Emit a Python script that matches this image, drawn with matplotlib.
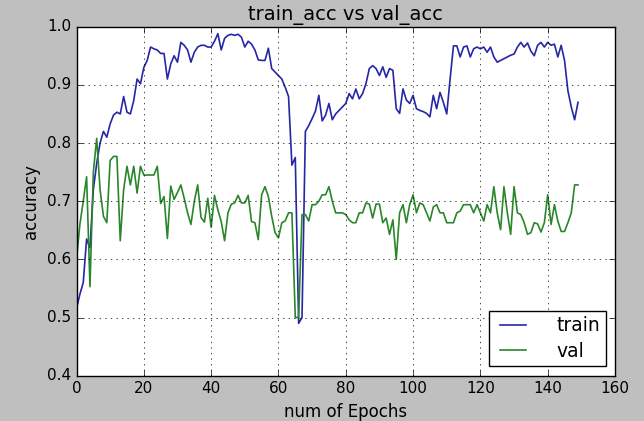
import numpy as np
import matplotlib
matplotlib.use('Agg')
import matplotlib.pyplot as plt
plt.style.use('classic')

train_acc = [0.515, 0.54, 0.56, 0.635, 0.62, 0.72, 0.765, 0.80, 0.82, 0.81,
             0.833, 0.848, 0.853, 0.85, 0.88, 0.853, 0.85, 0.873, 0.91, 0.902,
             0.93, 0.942, 0.965, 0.962, 0.96, 0.954, 0.954, 0.91, 0.936, 0.95,
             0.939, 0.973, 0.968, 0.96, 0.939, 0.956, 0.965, 0.968, 0.968, 0.965,
             0.965, 0.975, 0.988, 0.96, 0.98, 0.985, 0.987, 0.985, 0.987, 0.982,
             0.965, 0.975, 0.97, 0.96, 0.943, 0.942, 0.942, 0.963, 0.928, 0.922,
             0.916, 0.91, 0.896, 0.88, 0.762, 0.775, 0.49, 0.50, 0.82, 0.83,
             0.842, 0.855, 0.882, 0.838, 0.848, 0.868, 0.84, 0.85, 0.856, 0.862,
             0.868, 0.885, 0.876, 0.893, 0.876, 0.885, 0.902, 0.928, 0.933, 0.928,
             0.916, 0.931, 0.913, 0.928, 0.925, 0.859, 0.851, 0.893, 0.874, 0.868,
             0.882, 0.859, 0.856, 0.854, 0.851, 0.845, 0.882, 0.859, 0.887, 0.87,
             0.85, 0.91, 0.967, 0.967, 0.948, 0.965, 0.967, 0.948, 0.962, 0.965,
             0.962, 0.965, 0.956, 0.965, 0.948, 0.939, 0.942, 0.945, 0.948, 0.951,
             0.953, 0.965, 0.973, 0.965, 0.972, 0.958, 0.95, 0.968, 0.973, 0.965,
             0.973, 0.968, 0.97, 0.948, 0.968, 0.942, 0.89, 0.862, 0.84, 0.87]

val_acc = [0.60, 0.66, 0.70, 0.742, 0.553, 0.75, 0.808, 0.72, 0.674, 0.663,
           0.77, 0.777, 0.777, 0.632, 0.72, 0.76, 0.728, 0.76, 0.714, 0.76,
           0.745, 0.745, 0.745, 0.745, 0.76, 0.696, 0.708, 0.636, 0.726, 0.703,
           0.715, 0.728, 0.705, 0.68, 0.66, 0.70, 0.728, 0.672, 0.664, 0.705,
           0.655, 0.71, 0.685, 0.665, 0.632, 0.68, 0.695, 0.697, 0.71, 0.697,
           0.697, 0.71, 0.665, 0.663, 0.634, 0.711, 0.725, 0.708, 0.674, 0.646,
           0.637, 0.663, 0.666, 0.68, 0.68, 0.50, 0.50, 0.677, 0.677, 0.666,
           0.694, 0.694, 0.70, 0.711, 0.711, 0.725, 0.70, 0.68, 0.68, 0.68,
           0.677, 0.668, 0.663, 0.663, 0.68, 0.68, 0.697, 0.695, 0.671, 0.695,
           0.695, 0.663, 0.671, 0.643, 0.668, 0.60, 0.68, 0.694, 0.663, 0.694,
           0.711, 0.68, 0.697, 0.694, 0.68, 0.666, 0.69, 0.694, 0.68, 0.68,
           0.663, 0.663, 0.663, 0.68, 0.683, 0.694, 0.694, 0.694, 0.68, 0.694,
           0.68, 0.666, 0.694, 0.68, 0.725, 0.68, 0.651, 0.725, 0.68, 0.643,
           0.725, 0.68, 0.677, 0.663, 0.643, 0.646, 0.663, 0.661, 0.647, 0.663,
           0.711, 0.66, 0.694, 0.666, 0.648, 0.648, 0.663, 0.68, 0.728, 0.728]

epochs = np.arange(len(train_acc))

fig = plt.figure(figsize=(6.44, 4.21), dpi=100)
ax = fig.add_axes([0.1188, 0.1076, 0.955 - 0.1188, 0.9366 - 0.1076])
ax.plot(epochs, train_acc, color='#2626a6', lw=1.2, label='train')
ax.plot(epochs, val_acc, color='#2a862a', lw=1.2, label='val')
ax.set_xlim(0, 160)
ax.set_ylim(0.4, 1.0)
ax.set_title('train_acc vs val_acc', fontsize=14)
ax.set_xlabel('num of Epochs', fontsize=12)
ax.set_ylabel('accuracy', fontsize=12)
ax.tick_params(axis='both', which='major', labelsize=11)
ax.grid(True)
ax.legend(loc='lower right', prop={'size': 13.5}, handlelength=2.0,
          handletextpad=1.3, labelspacing=0.35, borderpad=0.3, borderaxespad=0.5)

fig.savefig('out.png', dpi=100, facecolor=fig.get_facecolor())
